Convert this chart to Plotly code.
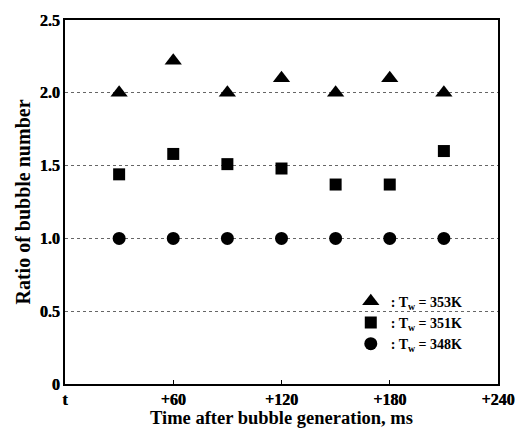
import plotly.graph_objects as go

time_ms = [30, 60, 90, 120, 150, 180, 210]
ratio_353K = [2.0, 2.22, 2.0, 2.1, 2.0, 2.1, 2.0]
ratio_351K = [1.44, 1.58, 1.51, 1.48, 1.37, 1.37, 1.60]
ratio_348K = [1.0, 1.0, 1.0, 1.0, 1.0, 1.0, 1.0]
series_names = [": T<sub>w</sub> = 353K", ": T<sub>w</sub> = 351K", ": T<sub>w</sub> = 348K"]
x_tickvals = [0, 60, 120, 180, 240]
x_ticktext = ["t", "+60", "+120", "+180", "+240"]
y_tickvals = [0, 0.5, 1.0, 1.5, 2.0, 2.5]
y_ticktext = ["0", "0.5", "1.0", "1.5", "2.0", "2.5"]

FONT = "Liberation Serif, Times New Roman, serif"
THICK = "0.4px 0 0 black"

fig = go.Figure()
fig.add_trace(go.Scatter(x=time_ms, y=ratio_353K, mode="markers", name="<b>" + series_names[0] + "</b>",
                         marker=dict(symbol="triangle-up", size=15, color="black")))
fig.add_trace(go.Scatter(x=time_ms, y=ratio_351K, mode="markers", name="<b>" + series_names[1] + "</b>",
                         marker=dict(symbol="square", size=12, color="black")))
fig.add_trace(go.Scatter(x=time_ms, y=ratio_348K, mode="markers", name="<b>" + series_names[2] + "</b>",
                         marker=dict(symbol="circle", size=13, color="black")))

fig.update_layout(
    width=527, height=434,
    margin=dict(l=65, r=25, t=15, b=50),
    paper_bgcolor="white", plot_bgcolor="white",
    font=dict(family=FONT, color="black", size=14),
    showlegend=True,
    legend=dict(x=0.66, y=0.27, xanchor="left", yanchor="top",
                bgcolor="rgba(0,0,0,0)",
                font=dict(family=FONT, size=14, color="black", weight=700),
                itemsizing="trace", tracegroupgap=0, itemwidth=30),
)
fig.update_xaxes(
    range=[0, 240], tickvals=x_tickvals, ticktext=x_ticktext,
    showgrid=False, zeroline=False,
    showline=True, linecolor="black", linewidth=2, mirror=True,
    ticks="inside", ticklen=4, tickcolor="black",
    tickfont=dict(family=FONT, size=16, color="black", weight=700, shadow=THICK),
    title=dict(text="<b>Time after bubble generation, ms</b>",
               font=dict(family=FONT, size=18.5), standoff=1),
)
fig.update_yaxes(
    range=[0, 2.5], tickvals=y_tickvals, ticktext=y_ticktext,
    showgrid=True, gridcolor="#666", griddash="dot", gridwidth=1,
    zeroline=False,
    showline=True, linecolor="black", linewidth=2, mirror=True,
    ticks="",
    tickfont=dict(family=FONT, size=16, color="black", weight=700, shadow=THICK),
    title=dict(text="<b>Ratio of bubble number</b>",
               font=dict(family=FONT, size=20), standoff=4),
)
fig.write_html("out.html")
